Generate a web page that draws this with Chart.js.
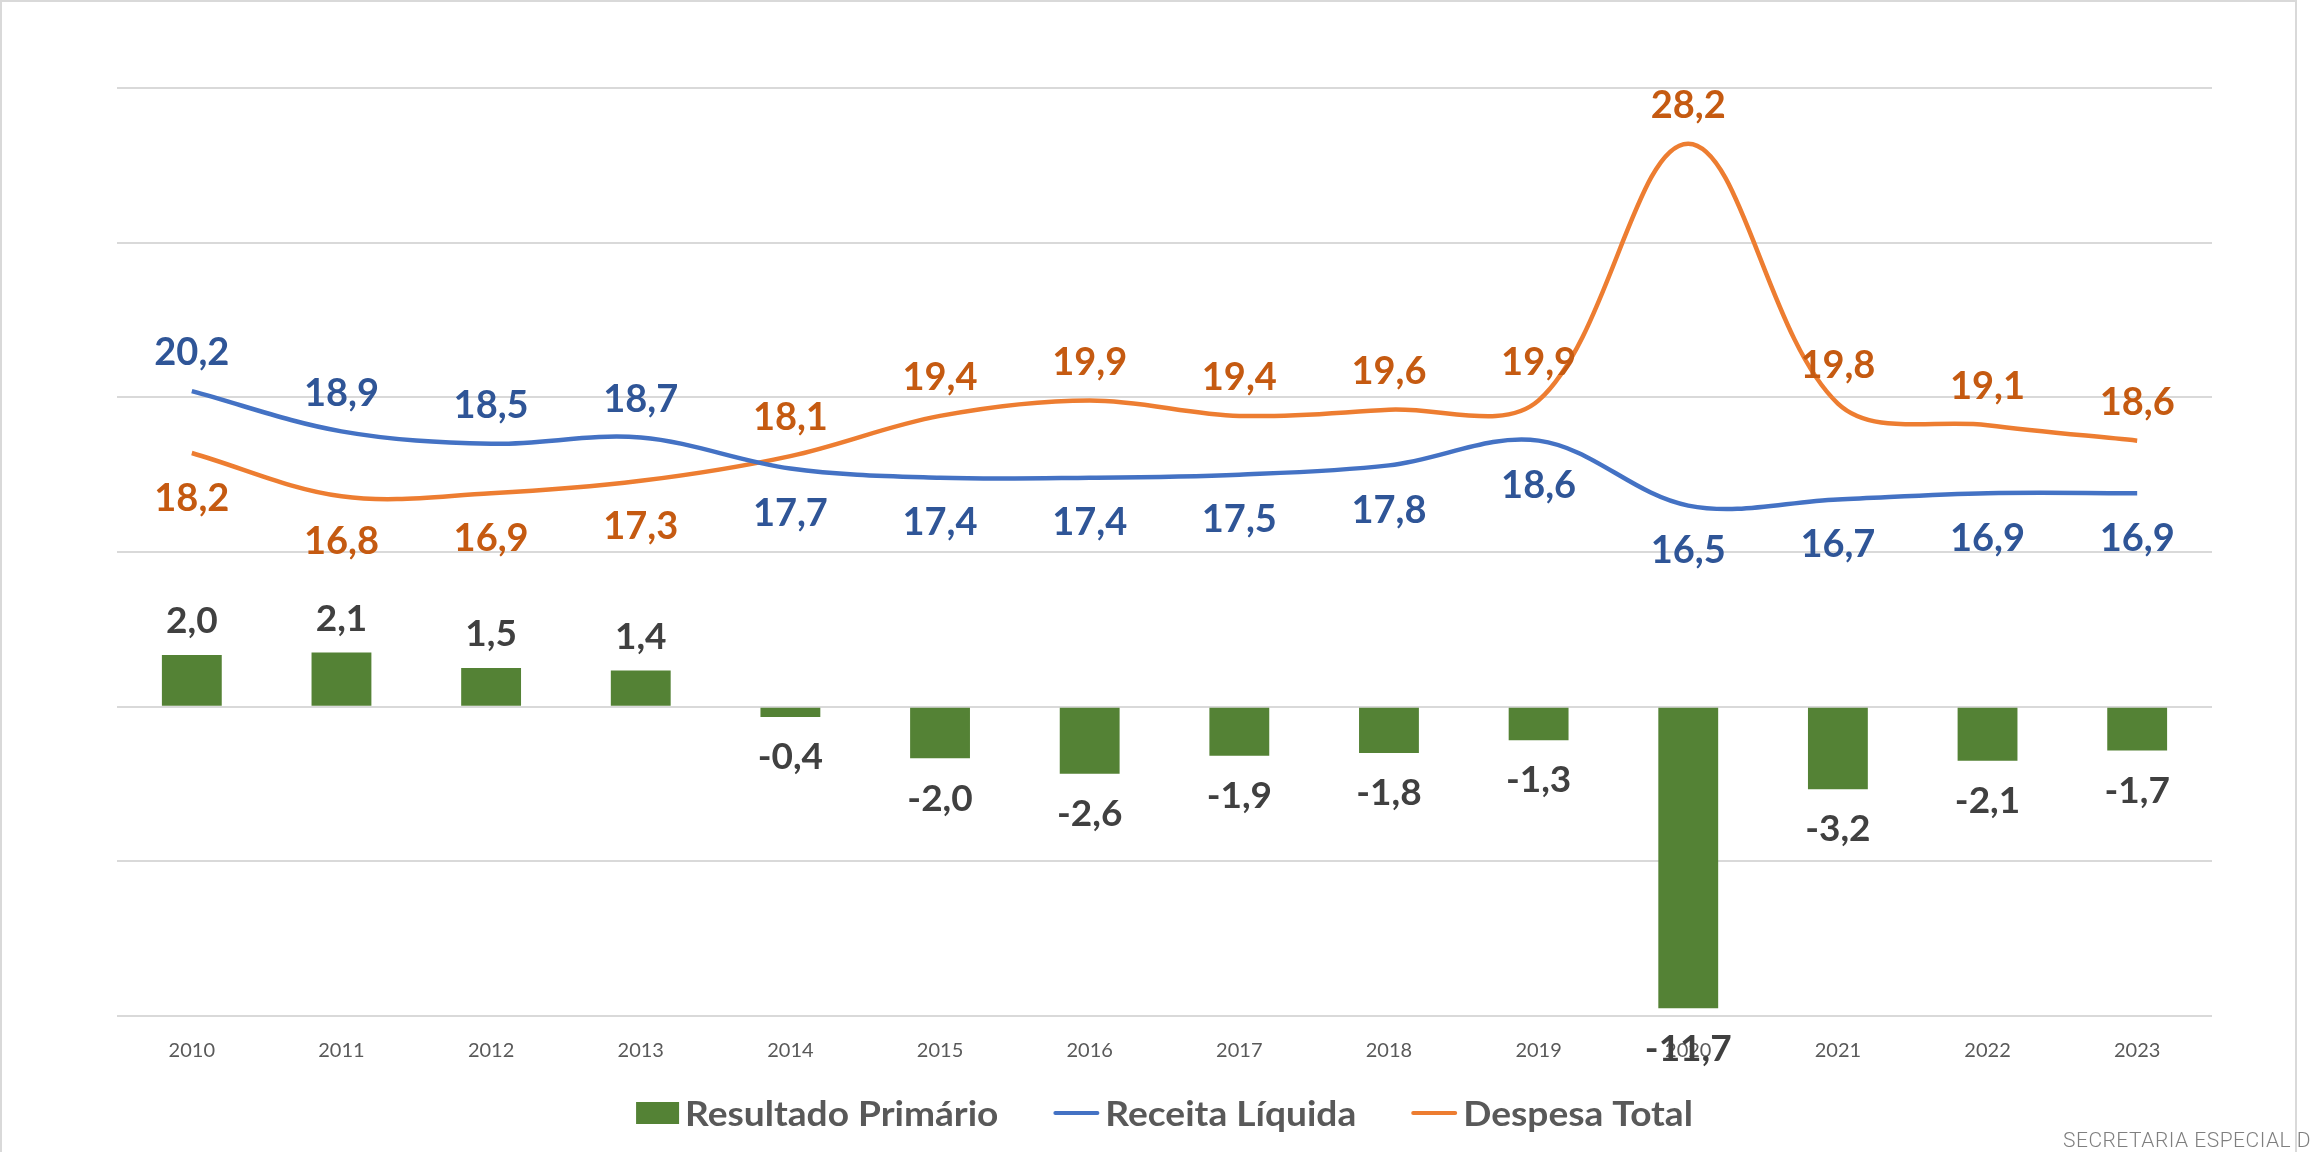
<!DOCTYPE html>
<html>
<head>
<meta charset="utf-8">
<script src="https://cdn.jsdelivr.net/npm/chart.js@4.4.1/dist/chart.umd.min.js"></script>
<style>
    html, body { margin: 0; padding: 0; background: #fff; overflow: hidden; }
    #moldura { position: absolute; left: 0; top: 0; width: 2297px; height: 1180px; border: 2px solid #d9d9d9; box-sizing: border-box; }
    #grafico { position: absolute; left: 0; top: 0; }
    #fonte { position: absolute; left: 2063px; top: 1128px; font-family: Roboto, sans-serif; font-weight: 300;
             font-size: 21px; color: #7f7f7f; white-space: nowrap; letter-spacing: 0.5px; }
</style>
</head>
<body>
<div id="moldura"></div>
<canvas id="grafico" width="2311" height="1152"></canvas>
<div id="fonte">SECRETARIA ESPECIAL DE</div>
<script>
// Dados (% do PIB)
const anos = ["2010", "2011", "2012", "2013", "2014", "2015", "2016", "2017", "2018", "2019", "2020", "2021", "2022", "2023"];
const resultadoPrimario = [2.0, 2.1, 1.5, 1.4, -0.4, -2.0, -2.6, -1.9, -1.8, -1.3, -11.7, -3.2, -2.1, -1.7];
const receitaLiquida = [20.2, 18.9, 18.5, 18.7, 17.7, 17.4, 17.4, 17.5, 17.8, 18.6, 16.5, 16.7, 16.9, 16.9];
const despesaTotal = [18.2, 16.8, 16.9, 17.3, 18.1, 19.4, 19.9, 19.4, 19.6, 19.9, 28.2, 19.8, 19.1, 18.6];

// onde fica o rótulo de cada ponto das linhas (acima / abaixo)
const ladoReceita = anos.map((a, i) => i < 4 ? "acima" : "abaixo");
const ladoDespesa = anos.map((a, i) => i < 4 ? "abaixo" : "acima");

const FONTE = "Lato, 'DejaVu Sans', sans-serif";

// Rótulos de dados desenhados por cima das séries
const rotulos = {
    id: "rotulos",
    afterDatasetsDraw(chart) {
        const ctx = chart.ctx;
        chart.data.datasets.forEach((ds, i) => {
            const meta = chart.getDatasetMeta(i);
            const tam = ds.type === "bar" ? 37 : 38;
            meta.data.forEach((el, j) => {
                const v = ds.data[j];
                let centro;
                if (ds.type === "bar") {
                    centro = v >= 0 ? el.y - 35 : el.y + 39;
                } else {
                    centro = ds.lados[j] === "acima" ? el.y - 39.5 : el.y + 44;
                }
                ctx.save();
                ctx.font = "bold " + tam + "px " + FONTE;
                ctx.fillStyle = ds.corRotulo;
                ctx.textAlign = "center";
                ctx.textBaseline = "alphabetic";
                ctx.fillText(v.toFixed(1).replace(".", ","), el.x, centro + tam * 0.36);
                ctx.restore();
            });
        });
    }
};

// Legenda no estilo do Excel: quadrado para a barra, traço para as linhas
const legenda = {
    id: "legenda",
    afterDraw(chart) {
        const ctx = chart.ctx;
        const y = 1113;
        ctx.save();
        ctx.font = "bold 35px " + FONTE;
        const escala = 1.06;
        const itens = chart.data.datasets.map(ds => ({
            texto: ds.label,
            tipo: ds.type,
            cor: ds.type === "bar" ? ds.backgroundColor : ds.borderColor,
            marca: ds.type === "bar" ? 43 : 46,
            largura: ctx.measureText(ds.label).width * escala
        }));
        const total = itens.reduce((s, it) => s + it.marca + 6 + it.largura, 0) + 55 * (itens.length - 1);
        let x = (chart.chartArea.left + chart.chartArea.right) / 2 - total / 2;
        itens.forEach(it => {
            if (it.tipo === "bar") {
                ctx.fillStyle = it.cor;
                ctx.fillRect(x, y - 11, it.marca, 22);
            } else {
                ctx.strokeStyle = it.cor;
                ctx.lineWidth = 4;
                ctx.lineCap = "round";
                ctx.beginPath();
                ctx.moveTo(x + 2, y);
                ctx.lineTo(x + it.marca - 2, y);
                ctx.stroke();
            }
            x += it.marca + 6;
            ctx.save();
            ctx.translate(x, y + 35 * 0.36);
            ctx.scale(escala, 1);
            ctx.fillStyle = "#595959";
            ctx.textAlign = "left";
            ctx.textBaseline = "alphabetic";
            ctx.fillText(it.texto, 0, 0);
            ctx.restore();
            x += it.largura + 55;
        });
        ctx.restore();
    }
};

new Chart(document.getElementById("grafico"), {
    data: {
        labels: anos,
        datasets: [
            {
                type: "bar",
                label: "Resultado Primário",
                data: resultadoPrimario,
                backgroundColor: "#548235",
                barPercentage: 0.4,
                categoryPercentage: 1,
                yAxisID: "y",
                order: 2,
                corRotulo: "#404040"
            },
            {
                type: "line",
                label: "Receita Líquida",
                data: receitaLiquida,
                borderColor: "#4472C4",
                backgroundColor: "#4472C4",
                borderWidth: 4.5,
                pointRadius: 0,
                tension: 0.35,
                yAxisID: "y1",
                order: 1,
                corRotulo: "#2F5597",
                lados: ladoReceita
            },
            {
                type: "line",
                label: "Despesa Total",
                data: despesaTotal,
                borderColor: "#ED7D31",
                backgroundColor: "#ED7D31",
                borderWidth: 4.5,
                pointRadius: 0,
                tension: 0.35,
                yAxisID: "y1",
                order: 1,
                corRotulo: "#C55A11",
                lados: ladoDespesa
            }
        ]
    },
    options: {
        responsive: false,
        animation: false,
        layout: { padding: { left: 117, right: 99, top: 88, bottom: 74 } },
        scales: {
            x: {
                grid: { display: false },
                border: { display: false },
                ticks: { font: { family: FONTE, size: 20 }, color: "#595959", padding: 15 }
            },
            y: {
                min: -12,
                max: 24,
                ticks: { stepSize: 6, display: false },
                grid: { color: "#d9d9d9", lineWidth: 2, drawTicks: false },
                border: { display: false },
                afterFit: s => { s.width = 0; }
            },
            y1: {
                min: 0,
                max: 30,
                display: false
            }
        },
        plugins: {
            tooltip: { enabled: false },
            legend: { display: false }
        }
    },
    plugins: [rotulos, legenda]
});
</script>
</body>
</html>
